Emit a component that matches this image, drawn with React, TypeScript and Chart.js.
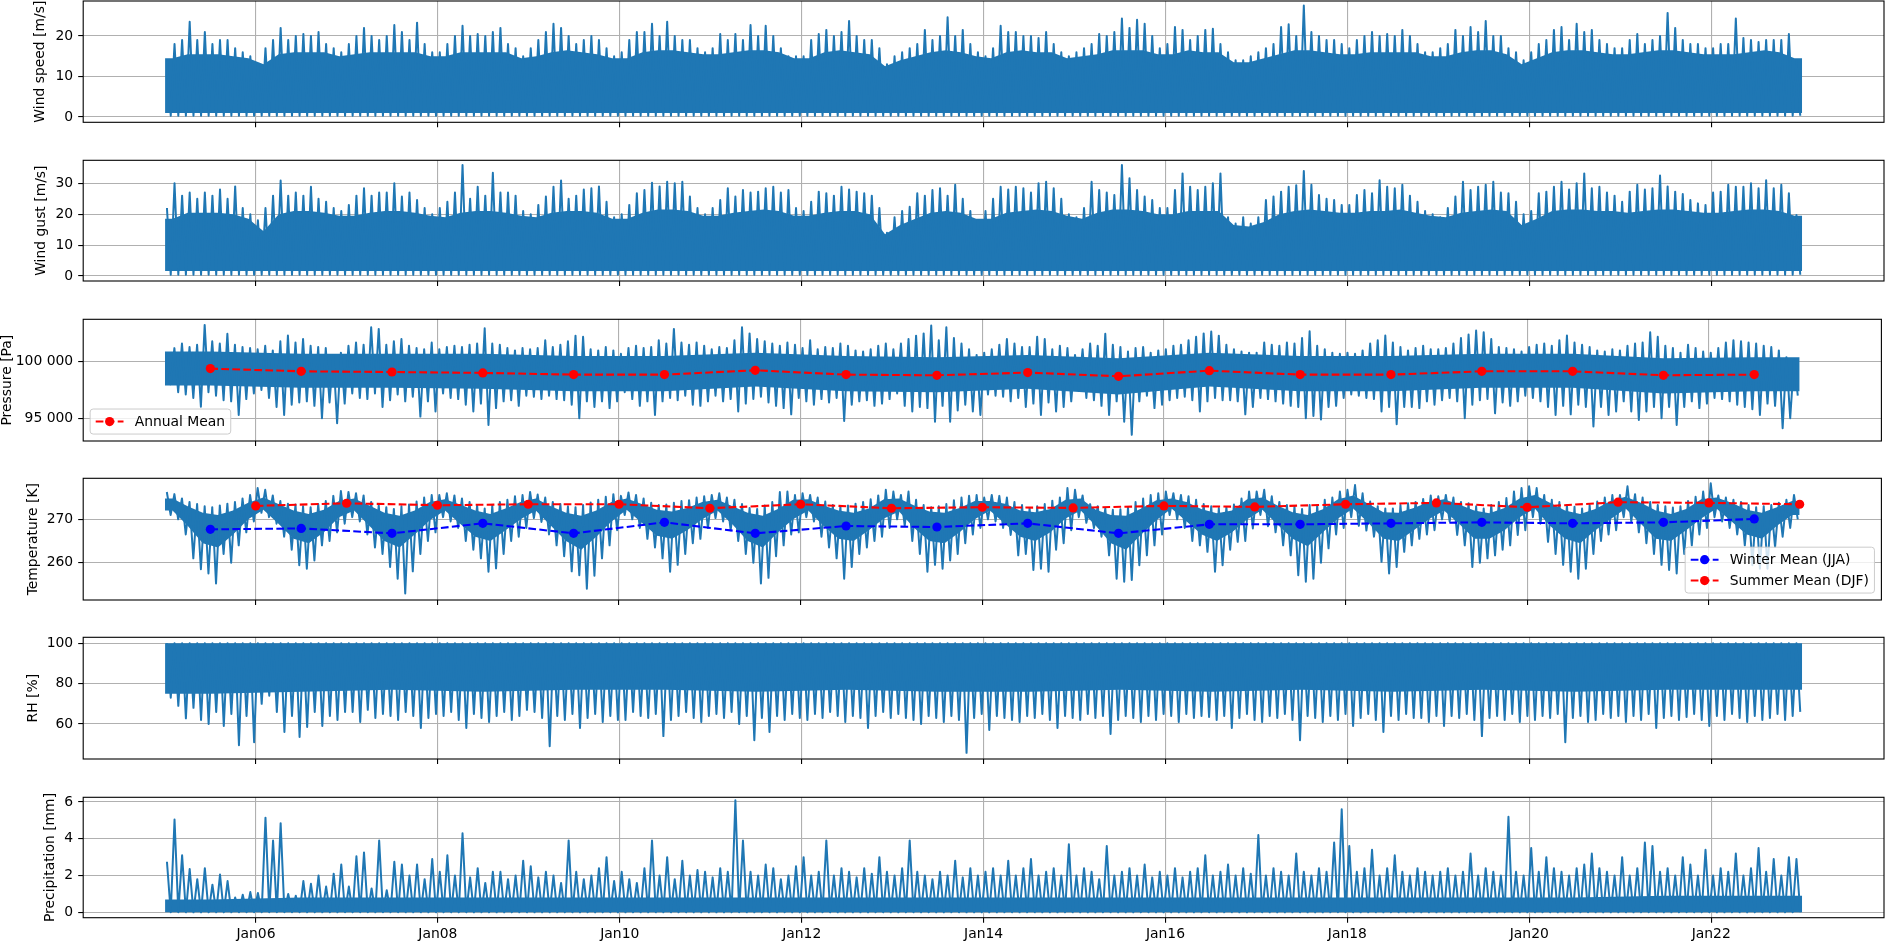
import React, { useEffect, useRef } from "react";
import { Chart, registerables } from "chart.js";

Chart.register(...registerables);

const BLUE = "#1f77b4";
const GRID = "#b0b0b0";
const FONT = '"DejaVu Sans", sans-serif';
const FS = 13.9;

const START_YEAR = 2005;
const END_YEAR = 2023;
const X_MIN = 2004.1;
const X_MAX = 2023.9;
const PLOT_LEFT = 83.2;
const PLOT_RIGHT = 1884;

const xTickYears = [2006, 2008, 2010, 2012, 2014, 2016, 2018, 2020, 2022];
const xTickLabels = ["Jan06", "Jan08", "Jan10", "Jan12", "Jan14", "Jan16", "Jan18", "Jan20", "Jan22"];

// ---- Wind speed [m/s]: monthly spike tops, bimonthly dense-band top ----
const windHi = [
  14, 18, 19, 23.5, 19, 21, 18, 19, 19, 17, 16, 15,
  13, 17, 19, 22, 19, 20, 20.5, 20, 21, 18, 17, 16,
  18, 20, 22, 20, 19, 20, 22.7, 21, 19, 23.3, 18, 16,
  16, 18, 20, 22.5, 20, 20.5, 20, 21, 22, 18, 17, 15,
  17, 19, 21, 23, 22, 20, 18, 19, 20, 19, 17, 15,
  16, 19, 21, 21, 23, 20, 23.5, 20, 19, 19, 17, 16,
  17, 20.5, 19, 20.5, 19, 22.7, 20, 22.5, 20, 17, 15, 15,
  15, 19, 20.5, 21.5, 20, 21, 23.7, 20, 19, 19, 17, 13,
  15, 16, 17, 18, 21.5, 19, 20, 24.6, 20, 21.5, 18, 16,
  15, 17, 22.5, 21, 21, 20, 20, 19.5, 21, 18, 16, 15,
  16, 17, 18, 20.5, 20, 21, 24.3, 22, 24, 23, 20, 17,
  18, 22.2, 21.5, 19, 20, 21.5, 21.8, 18, 16, 14, 14, 15,
  16, 17, 18, 22.2, 22.9, 20, 27.5, 21, 20, 19, 19, 18,
  17, 19, 20, 21, 20, 20.5, 20, 21.5, 20, 18, 16, 16,
  17, 18, 21.5, 20, 22.2, 21, 23.7, 20, 20, 17, 16, 14,
  16, 18, 19, 21.5, 22.2, 19, 23, 21, 21.5, 19, 18, 17,
  17, 19, 20.5, 18, 19, 20, 25.7, 22, 19, 18, 18, 17,
  17, 18, 18, 24.3, 19.5, 19, 18.5, 19, 19, 19, 20.5, 14,
];
const windCore = [
  14.5, 15.5, 15.5, 15.5, 15, 14.5,
  13, 15.5, 16, 16, 16, 15,
  15.5, 16, 16, 16, 16, 15,
  15, 16, 16, 16, 16, 14.5,
  15, 16, 16.5, 16, 15.5, 14.5,
  14.5, 16, 16.5, 16.5, 16, 15.5,
  15.5, 16, 16.5, 16.5, 16, 14.5,
  14.5, 16, 16.5, 16, 15.5, 12.5,
  14, 15, 16, 16.5, 16, 15,
  14.5, 16, 16.5, 16, 16, 14.5,
  15, 15.5, 16.5, 16.5, 16.5, 15.5,
  15.5, 16.5, 16, 16, 13.5, 13.5,
  14.5, 15.5, 16.5, 16.5, 16, 15.5,
  15.5, 16, 16, 16, 16, 15,
  15, 16, 16.5, 16.5, 15.5, 13,
  14.5, 16, 16.5, 16.5, 16, 15.5,
  15.5, 16, 16.5, 16.5, 16, 15.5,
  15.5, 15.5, 16, 16.5, 16, 14.5,
];
const windFloor = 0.3;
const windCoreBottom = 1.0;

// ---- Wind gust [m/s] ----
const gustHi = [
  22, 30, 26, 27, 25, 27, 26, 28, 25, 29, 22, 20,
  18, 22, 26, 30.9, 26, 27, 26, 28.9, 25, 24, 22, 21,
  23, 26, 28.4, 26, 27, 27, 30, 25.7, 27, 24.6, 22, 20,
  22, 24, 27, 35.9, 25, 28.9, 26, 33.4, 27, 27, 26, 21,
  20, 23, 25.7, 28.9, 30.9, 25, 26, 28, 28.4, 29, 24, 19,
  20, 23, 26.8, 27.8, 30.2, 29, 30.5, 30, 30.5, 25.7, 22, 20,
  22, 24.6, 28.4, 25.7, 27.8, 27, 27.3, 28.4, 28.9, 27, 27.8, 22,
  21, 24, 27.3, 26.8, 26, 28.9, 28, 27.3, 26.8, 26, 22, 14,
  19, 21, 22.4, 26.8, 26, 27.8, 28.4, 26, 29.5, 25, 21, 18,
  21, 25, 28.9, 28, 28.9, 28.4, 27, 30, 30.5, 28.4, 25, 20,
  19, 22, 30.5, 27.8, 27, 26.2, 35.9, 31.6, 27.8, 25.7, 24.6, 22,
  22, 27.8, 33.2, 28.9, 27.8, 28.9, 30, 33.2, 19, 17, 19, 17,
  19, 24.6, 25.7, 27.3, 28.9, 29.4, 34, 29.5, 26.2, 25, 24.6, 23,
  23, 26.2, 27.8, 26.8, 31, 28.9, 28.4, 29.5, 26, 24, 21, 20,
  19, 22, 25.7, 30.5, 27.8, 28.9, 29.5, 30.5, 27, 26.8, 24, 20,
  21, 26.8, 27.3, 28.9, 30.5, 28, 30, 33.2, 28.4, 28.9, 27, 26,
  24, 27.3, 29.5, 28, 28.4, 32.5, 29, 27.3, 26.5, 24.6, 23.5, 23,
  27, 27.3, 29.5, 28.9, 28.9, 30, 28.4, 31, 28.4, 29.5, 26.8, 19.7,
];
const gustCore = [
  18.5, 20.5, 20.5, 20.5, 20, 18.5,
  14.5, 20, 21, 21, 20.5, 19.5,
  19.5, 20.5, 21, 21, 20.5, 19.5,
  19, 20.5, 21, 21, 20.5, 19.5,
  19, 20.5, 21, 21, 20.5, 18.5,
  18.5, 20.5, 21.5, 21.5, 21, 19.5,
  19.5, 20.5, 21, 21.5, 21, 19.5,
  19.5, 20.5, 21, 21, 20, 13.5,
  16.5, 18.5, 20.5, 21, 20.5, 18.5,
  18.5, 20.5, 21, 21.5, 21, 19.5,
  18.5, 20.5, 21.5, 21.5, 21, 20,
  20, 21, 21, 21, 16.5, 16,
  17.5, 20, 21, 21.5, 21, 20.5,
  20.5, 21, 21, 21.5, 20.5, 19.5,
  19, 20.5, 21, 21.5, 21, 16.5,
  18.5, 21, 21.5, 21.5, 21, 21,
  20.5, 21, 21.5, 21.5, 21, 20.5,
  20.5, 21, 21.5, 21.5, 21, 19.5,
];
const gustFloor = 0.4;
const gustCoreBottom = 1.6;

// ---- Pressure [Pa] ----
const presHi = [
  100500, 101200, 101600, 101300, 101500, 103250, 101800, 101600, 102460, 101500, 101300, 101200,
  101100, 101400, 101000, 101800, 102310, 101700, 102000, 101400, 101300, 101200, 100600, 100800,
  101400, 101700, 101500, 103040, 102900, 101500, 101800, 102000, 101400, 101200, 101100, 101700,
  101100, 101300, 101400, 101300, 101500, 101600, 102950, 101600, 101500, 101200, 101000, 101200,
  101100, 101200, 101900, 101300, 101500, 101800, 102300, 102200, 101100, 101000, 101300, 101000,
  100700, 101200, 101400, 101200, 101300, 101900, 101600, 102900, 101700, 101500, 101700, 101400,
  101100, 101300, 101200, 101900, 103040, 102500, 102000, 101800, 101600, 101400, 101700, 101500,
  101200, 101900, 101100, 101300, 101200, 101600, 101400, 101000, 100900, 101100, 101400, 101600,
  101100, 101600, 102000, 102300, 102500, 103190, 101900, 103040, 102100, 101600, 101100, 100600,
  100800, 101100, 101500, 102000, 101600, 101300, 101300, 102200, 102000, 101100, 101400, 101200,
  100600, 101100, 101600, 101400, 102460, 101500, 101300, 100900, 101200, 101300, 100800, 101000,
  101100, 101400, 101500, 101900, 102200, 102500, 102660, 102300, 101500, 101100, 100900, 100800,
  100800, 101700, 101500, 101400, 101700, 101600, 102100, 102690, 101400, 101100, 100800, 100700,
  100800, 100700, 101000, 101600, 101900, 102310, 101700, 101300, 101000, 101200, 101400, 101100,
  101100, 101200, 101600, 102100, 102400, 102750, 102600, 102000, 101300, 101200, 101100, 100900,
  101300, 101500, 101600, 101400, 101900, 102310, 101700, 101500, 101300, 101000, 100900, 101100,
  101000, 101400, 101600, 101700, 102600, 102200, 101400, 101200, 100800, 101500, 101200, 100900,
  100800, 101200, 101700, 101900, 101800, 101700, 101600, 101400, 101300, 101000, 100400, 100100,
];
const presLo = [
  98000, 97300, 97100, 96800, 96020, 97300, 97000, 96600, 96500, 95290, 96700, 97200,
  97500, 96800, 96000, 95290, 96200, 96400, 96500, 96100, 95000, 96400, 94560, 96300,
  97200, 96800, 96700, 97200, 96000, 96600, 97100, 96500, 96900, 95150, 96500, 95600,
  97200, 96800, 96700, 96200, 95600, 96300, 94410, 95900, 96500, 96600, 96100, 97000,
  96900, 96700, 97000, 96700, 96600, 96200, 95000, 96500, 96000, 96500, 95900, 96500,
  97300, 96700, 96100, 96500, 95290, 96500, 96800, 96600, 97000, 96200, 96100, 96500,
  97000, 96500, 96700, 95600, 96300, 96700, 96900, 96400, 96100, 95900, 95350, 96800,
  96500, 96200, 96700, 96400, 96800, 94760, 96200, 96500, 96600, 96100, 96300, 96700,
  97200, 96100, 95600, 96000, 95900, 94700, 96100, 94700, 95700, 96200, 95600, 95300,
  97100, 97000, 96900, 96500, 96800, 96000, 96300, 95290, 96400, 95600, 96000, 96500,
  97500, 96800, 96600, 96100, 95290, 96500, 94700, 93540, 96500, 97000, 95900, 96200,
  96600, 96800, 96900, 96600, 95600, 96500, 96800, 96600, 96600, 96500, 95350, 96000,
  96800, 96700, 96500, 96300, 96100, 96000, 95000, 95200, 94900, 96000, 96100, 96800,
  97100, 97000, 96800, 96700, 95600, 96000, 94470, 96000, 96000, 95900, 96500, 96200,
  96600, 96800, 96500, 95000, 96200, 96600, 96700, 95440, 96400, 96100, 96500, 97000,
  96800, 96500, 96000, 95300, 96100, 95350, 96200, 96000, 94270, 96000, 95300, 95600,
  96500, 95600, 94850, 95600, 96000, 95000, 96000, 94410, 96000, 96500, 95900, 96300,
  96800, 96700, 96500, 96200, 96000, 95800, 95300, 96300, 96100, 94120, 95000, 97000,
];
const presCoreHi = [100900, 100700, 100700, 100700, 100500, 100500, 100800, 100500, 100400, 100600, 100300, 100800, 100500, 100500, 100700, 100700, 100300, 100400];
const presCoreLo = [97900, 97700, 97700, 97600, 97400, 97400, 97800, 97400, 97300, 97600, 97100, 97800, 97400, 97400, 97700, 97700, 97200, 97400];
const annualMeanYears = [2005.5, 2006.5, 2007.5, 2008.5, 2009.5, 2010.5, 2011.5, 2012.5, 2013.5, 2014.5, 2015.5, 2016.5, 2017.5, 2018.5, 2019.5, 2020.5, 2021.5, 2022.5];
const presAnnualMean = [99390, 99150, 99090, 99010, 98860, 98860, 99240, 98860, 98800, 99040, 98710, 99210, 98860, 98860, 99150, 99150, 98800, 98860];

// ---- Temperature [K] ----
const tempHi = [
  276.3, 275.8, 274.8, 274.0, 273.5, 273.0, 272.8, 273.2, 273.6, 274.0, 274.8, 275.6,
  277.2, 276.8, 275.5, 274.2, 273.6, 273.4, 273.0, 272.8, 273.5, 274.2, 275.4, 276.5,
  276.3, 276.0, 275.5, 274.0, 273.2, 272.8, 272.4, 273.0, 273.4, 274.1, 275.0, 275.6,
  275.6, 276.0, 275.5, 274.8, 274.0, 273.3, 272.5, 273.2, 274.0, 274.5, 275.3, 275.6,
  276.3, 275.7, 275.0, 274.0, 273.5, 273.0, 272.8, 273.3, 273.9, 274.5, 275.2, 275.8,
  275.4, 276.2, 275.6, 274.8, 273.8, 273.3, 273.4, 273.8, 274.2, 274.4, 275.0, 275.3,
  275.6, 276.0, 275.0, 274.5, 273.5, 272.6, 272.4, 273.2, 274.0, 276.3, 276.4, 275.6,
  276.0, 275.6, 275.0, 274.1, 273.3, 273.0, 273.2, 273.6, 274.0, 274.6, 275.5, 276.8,
  276.4, 275.6, 276.4, 274.5, 273.3, 272.8, 273.0, 273.5, 274.4, 275.0, 275.4, 275.6,
  275.0, 275.6, 275.4, 275.0, 274.0, 273.3, 272.6, 273.0, 273.5, 274.3, 275.0, 277.2,
  276.8, 275.5, 273.5, 273.0, 272.5, 272.2, 272.3, 272.8, 274.0, 274.8, 275.6, 276.0,
  276.4, 276.0, 275.6, 275.3, 274.5, 273.5, 273.0, 272.6, 272.8, 273.4, 274.8, 276.4,
  276.4, 276.8, 275.3, 274.0, 273.3, 273.0, 272.4, 273.3, 273.3, 274.5, 275.0, 276.4,
  276.8, 277.9, 276.0, 274.1, 273.0, 272.5, 272.5, 273.3, 273.7, 274.0, 274.7, 275.5,
  275.3, 275.6, 275.0, 274.0, 273.7, 273.0, 272.5, 273.3, 274.0, 274.9, 276.4, 277.2,
  277.6, 277.2, 275.6, 274.5, 274.0, 273.3, 272.9, 272.5, 273.3, 274.1, 275.0, 275.6,
  275.6, 277.6, 275.8, 275.0, 274.0, 273.3, 273.0, 272.7, 273.0, 274.2, 275.2, 276.4,
  278.3, 275.5, 275.0, 274.5, 274.0, 273.3, 272.8, 273.0, 273.3, 273.8, 274.5, 275.6,
];
const tempLo = [
  271.0, 270.0, 266.5, 261.0, 258.5, 257.5, 255.2, 262.0, 260.0, 264.0, 267.0, 269.5,
  271.5, 270.5, 269.0, 266.0, 263.0, 259.4, 258.6, 260.5, 264.0, 265.0, 267.0, 269.0,
  270.5, 269.5, 266.5, 263.5, 262.0, 259.0, 256.3, 252.9, 258.0, 262.0, 265.0, 267.0,
  270.5, 269.5, 268.0, 265.0, 263.0, 261.0, 257.9, 258.7, 262.0, 265.0, 266.0, 268.0,
  270.3, 269.4, 266.5, 264.0, 261.5, 258.0, 257.1, 254.0, 257.0, 261.0, 264.0, 267.5,
  271.0, 270.0, 268.0, 265.5, 263.5, 261.0, 257.9, 259.5, 262.0, 264.5, 265.5, 268.0,
  270.3, 269.5, 267.5, 265.0, 262.0, 260.0, 255.2, 256.5, 261.5, 264.0, 266.5, 267.0,
  270.5, 269.5, 266.0, 263.5, 261.0, 256.3, 259.0, 262.0, 263.5, 265.0, 266.0, 268.0,
  270.0, 268.5, 265.0, 262.0, 257.9, 259.5, 258.6, 260.5, 262.0, 264.5, 266.5, 268.0,
  270.0, 269.5, 268.0, 266.4, 261.7, 262.0, 258.3, 258.6, 257.9, 263.0, 264.5, 267.5,
  270.5, 269.2, 268.0, 266.0, 261.7, 256.3, 255.6, 256.0, 259.4, 261.7, 264.0, 266.5,
  271.0, 270.0, 268.0, 265.0, 264.0, 262.5, 257.9, 259.4, 263.0, 264.8, 265.0, 267.9,
  271.0, 268.4, 267.0, 264.0, 261.7, 257.1, 255.6, 256.3, 260.0, 263.3, 266.5, 268.0,
  270.5, 268.5, 267.4, 266.0, 260.2, 257.5, 259.0, 262.5, 264.0, 265.5, 266.5, 267.5,
  270.0, 269.5, 266.4, 264.0, 259.0, 260.0, 261.0, 261.7, 263.0, 264.0, 266.4, 267.5,
  270.5, 269.0, 264.8, 262.0, 259.5, 257.9, 256.3, 258.6, 262.0, 265.0, 266.5, 267.5,
  270.5, 269.5, 267.0, 264.5, 262.0, 259.5, 258.3, 257.5, 262.0, 264.0, 266.5, 268.0,
  270.5, 269.5, 268.0, 266.5, 264.0, 259.4, 258.6, 258.6, 263.6, 266.0, 268.0, 270.0,
];
const tempCoreHi = [
  274.8, 273.0, 271.5, 271.0, 272.0, 273.8,
  275.0, 273.5, 272.0, 271.2, 272.2, 274.2,
  274.8, 273.2, 271.5, 270.8, 272.0, 274.0,
  274.6, 273.4, 272.0, 271.2, 272.5, 274.0,
  274.8, 273.0, 271.5, 270.8, 272.0, 274.0,
  274.8, 273.5, 272.2, 271.8, 272.6, 274.0,
  274.5, 273.0, 271.5, 270.8, 272.4, 274.5,
  274.6, 273.2, 272.0, 271.5, 272.5, 274.6,
  274.8, 273.2, 271.8, 271.5, 272.6, 274.2,
  274.2, 273.6, 272.0, 271.6, 272.4, 274.5,
  274.8, 272.2, 271.0, 270.8, 272.5, 274.4,
  274.8, 274.0, 272.3, 271.4, 272.0, 274.6,
  275.0, 273.2, 271.6, 271.0, 272.3, 274.6,
  275.5, 273.6, 271.6, 271.5, 272.6, 274.0,
  274.6, 273.4, 272.0, 271.4, 272.6, 274.8,
  275.6, 273.8, 272.0, 271.2, 272.4, 274.2,
  275.2, 273.8, 272.0, 271.2, 272.4, 274.6,
  275.0, 273.8, 272.2, 271.5, 272.8, 274.2,
];
const tempCoreLo = [
  272.0, 268.5, 264.5, 263.5, 266.5, 270.0,
  272.2, 269.0, 265.5, 264.5, 267.0, 270.5,
  272.0, 268.5, 265.0, 263.5, 266.5, 269.8,
  272.0, 269.0, 266.0, 265.0, 267.5, 270.0,
  272.0, 268.5, 265.0, 263.0, 266.0, 269.5,
  272.2, 269.2, 266.2, 265.5, 267.5, 270.0,
  272.0, 268.8, 265.0, 263.5, 267.0, 270.0,
  272.0, 268.5, 265.5, 265.0, 267.5, 270.2,
  271.8, 268.0, 265.0, 264.5, 267.0, 270.0,
  272.0, 269.0, 266.0, 265.0, 267.0, 270.2,
  272.0, 268.5, 264.5, 263.0, 266.5, 269.8,
  272.5, 269.5, 266.5, 265.0, 267.0, 270.0,
  272.2, 268.8, 265.5, 263.8, 267.0, 270.2,
  272.5, 269.2, 265.5, 265.0, 267.5, 270.0,
  272.0, 269.0, 265.5, 265.5, 267.5, 270.5,
  272.5, 268.5, 265.5, 264.5, 267.5, 270.0,
  272.5, 269.0, 265.5, 265.0, 267.5, 270.2,
  272.5, 269.5, 266.5, 265.5, 268.5, 271.0,
];
const winterMeanYears = [2005.5, 2006.5, 2007.5, 2008.5, 2009.5, 2010.5, 2011.5, 2012.5, 2013.5, 2014.5, 2015.5, 2016.5, 2017.5, 2018.5, 2019.5, 2020.5, 2021.5, 2022.5];
const winterMean = [267.68, 267.9, 266.76, 269.07, 266.76, 269.3, 266.76, 268.46, 268.22, 269.07, 266.76, 268.84, 268.84, 269.07, 269.3, 269.07, 269.3, 270.08];
const summerMeanYears = [2006, 2007, 2008, 2009, 2010, 2011, 2012, 2013, 2014, 2015, 2016, 2017, 2018, 2019, 2020, 2021, 2022, 2023];
const summerMean = [273.09, 273.7, 273.24, 273.47, 273.47, 272.55, 273.47, 272.55, 272.78, 272.63, 273.09, 272.86, 273.47, 273.78, 272.78, 273.94, 273.78, 273.47];

// ---- Relative humidity [%] ----
const rhTop = 100;
const rhLo = [
  73, 69, 62.8, 68, 62, 60, 66, 59, 65, 49.5, 64, 51,
  70, 74, 66, 56, 64, 53.6, 58.5, 66, 59, 64, 62, 66,
  66, 61, 67, 63, 65, 64, 62, 66, 64, 58, 63, 65,
  64, 66, 62, 58, 65, 63, 61, 64, 66, 62, 64, 67,
  66, 63, 49, 64, 62, 65, 58, 63, 65, 61, 64, 62,
  62, 66, 64, 63, 65, 54, 62, 64, 66, 63, 61, 64,
  65, 63, 66, 60, 64, 52, 63, 56, 64, 62, 65, 63,
  62, 65, 63, 66, 64, 61, 64, 63, 58, 64, 66, 63,
  65, 63, 62, 60, 64, 63, 61, 64, 62, 45.7, 63, 65,
  57, 64, 63, 62, 61, 64, 63, 65, 62, 58, 64, 63,
  62, 65, 63, 64, 55, 62, 64, 63, 61, 64, 62, 65,
  64, 61, 65, 63, 64, 63.5, 62, 64, 58, 63, 65, 62,
  61, 64, 63, 65, 62, 52, 64, 63, 61, 64, 62, 65,
  59, 63, 65, 62, 56, 64, 62, 65, 63, 63, 61, 64,
  59, 64, 63, 65, 62, 54, 63, 64, 62, 65, 61, 64,
  62, 64, 63, 65, 51, 63, 64, 61, 62, 65, 63, 64,
  61, 64, 62, 65, 58, 63, 64, 62, 63.5, 65, 62, 59,
  64, 62, 65, 63, 61, 64, 62, 63, 65, 62, 64, 66,
];
const rhCoreLo = [75, 76, 77, 76, 77, 77, 76, 77, 76, 76, 77, 76, 77, 76, 77, 76, 77, 77];

// ---- Precipitation [mm] ----
const precipHi = [
  2.75, 5.05, 3.1, 2.35, 1.8, 2.4, 1.5, 2.05, 1.7, 0.8, 0.95, 1.1,
  1.05, 5.15, 3.9, 4.85, 1.0, 0.9, 1.7, 1.55, 2.0, 1.4, 2.1, 2.6,
  1.4, 3.05, 3.25, 1.3, 3.9, 1.2, 2.75, 2.6, 2.0, 2.6, 1.8, 2.9,
  2.2, 3.1, 2.0, 4.3, 1.9, 2.4, 1.6, 2.2, 2.2, 1.8, 2.0, 2.8,
  2.5, 1.9, 2.2, 2.0, 1.6, 3.9, 2.2, 1.8, 2.0, 2.4, 3.0, 1.7,
  2.2, 1.8, 1.6, 2.4, 3.9, 2.0, 3.0, 1.8, 2.8, 2.0, 2.3, 2.2,
  1.9, 2.4, 2.2, 6.1, 3.9, 2.2, 2.0, 2.6, 2.4, 1.8, 2.0, 2.5,
  3.0, 2.0, 2.2, 3.9, 2.0, 2.4, 2.2, 1.9, 2.4, 2.1, 3.0, 2.2,
  2.0, 2.4, 3.9, 2.2, 2.0, 1.8, 2.2, 2.0, 2.8, 1.9, 2.4, 2.0,
  2.2, 2.4, 2.0, 2.8, 2.0, 2.4, 2.9, 2.0, 2.2, 2.4, 2.0, 3.7,
  2.0, 2.4, 2.2, 1.8, 3.6, 2.0, 2.2, 2.4, 2.0, 2.6, 1.9, 2.2,
  2.0, 2.4, 1.9, 2.2, 2.4, 3.1, 2.0, 2.2, 2.6, 2.0, 2.4, 2.1,
  4.2, 2.0, 2.4, 2.2, 2.0, 3.2, 2.2, 2.0, 2.4, 2.2, 3.8, 5.6,
  3.6, 2.2, 2.4, 3.4, 2.0, 2.4, 3.1, 2.2, 2.0, 2.4, 2.2, 2.0,
  2.2, 2.4, 2.0, 2.2, 3.2, 2.0, 2.4, 2.2, 2.0, 5.2, 2.2, 2.0,
  3.5, 2.2, 3.0, 2.4, 2.2, 2.0, 2.4, 2.6, 3.2, 2.4, 2.2, 2.0,
  3.0, 2.0, 2.4, 3.8, 3.6, 2.2, 2.4, 2.0, 3.0, 2.6, 2.0, 3.4,
  2.0, 2.4, 2.2, 3.2, 2.0, 2.4, 3.5, 2.2, 2.9, 2.0, 3.0, 2.9,
];
const precipCore = [0.7, 0.8, 0.8, 0.8, 0.8, 0.8, 0.8, 0.8, 0.8, 0.8, 0.8, 0.8, 0.8, 0.8, 0.8, 0.8, 0.9, 0.9];
const precipFloor = 0;

// ---------------- helpers that turn the arrays into Chart.js points ----------------
type Pt = { x: number; y: number };

function monthlyZigzag(hi: number[] | number, lo: number[] | number): Pt[] {
  const n = Array.isArray(hi) ? hi.length : (lo as number[]).length;
  const pts: Pt[] = [];
  for (let m = 0; m < n; m++) {
    const h = Array.isArray(hi) ? hi[m] : hi;
    const l = Array.isArray(lo) ? lo[m] : lo;
    pts.push({ x: START_YEAR + (m + 0.25) / 12, y: h });
    pts.push({ x: START_YEAR + (m + 0.75) / 12, y: l });
  }
  return pts;
}

function band(vals: number[]): Pt[] {
  const n = vals.length;
  const step = (END_YEAR - START_YEAR) / n;
  return [
    { x: START_YEAR, y: vals[0] },
    ...vals.map((y, k) => ({ x: START_YEAR + (k + 0.5) * step, y })),
    { x: END_YEAR, y: vals[n - 1] },
  ];
}

function pairs(xs: number[], ys: number[]): Pt[] {
  return xs.map((x, i) => ({ x, y: ys[i] }));
}

function coreFill(data: Pt[], fill: any) {
  return { data, fill, backgroundColor: BLUE, borderColor: BLUE, borderWidth: 0, pointRadius: 0, order: 3 };
}
function coreEdge(data: Pt[]) {
  return { data, fill: false, borderColor: BLUE, borderWidth: 0, pointRadius: 0, order: 3 };
}
function zigDataset(data: Pt[]) {
  return { data, fill: false, borderColor: BLUE, borderWidth: 2, pointRadius: 0, order: 1 };
}
function meanDataset(data: Pt[], color: string) {
  return {
    data,
    fill: false,
    borderColor: color,
    backgroundColor: color,
    borderWidth: 2.08,
    borderDash: [7.7, 3.3],
    pointRadius: 4.6,
    pointBackgroundColor: color,
    pointBorderColor: color,
    pointBorderWidth: 0,
    order: 0,
  };
}

const spaceThousands = (v: number) => String(Math.round(v)).replace(/\B(?=(\d{3})+(?!\d))/g, " ");

type LegendSpec = { loc: "lower left" | "lower right"; items: { label: string; color: string }[] };
type Panel = {
  top: number;
  bottom: number;
  yMin: number;
  yMax: number;
  yTicks: number[];
  yFmt?: (v: number) => string;
  title: string;
  titleX: number;
  xLabels: boolean;
  datasets: any[];
  legend?: LegendSpec;
};

const PANELS: Panel[] = [
  {
    top: 1, bottom: 122.3, yMin: -1.31, yMax: 28.64, yTicks: [0, 10, 20],
    title: "Wind speed [m/s]", titleX: 40.8, xLabels: false,
    datasets: [coreFill(band(windCore), { value: windCoreBottom }), zigDataset(monthlyZigzag(windHi, windFloor))],
  },
  {
    top: 160.3, bottom: 281, yMin: -1.62, yMax: 37.44, yTicks: [0, 10, 20, 30],
    title: "Wind gust [m/s]", titleX: 41.8, xLabels: false,
    datasets: [coreFill(band(gustCore), { value: gustCoreBottom }), zigDataset(monthlyZigzag(gustHi, gustFloor))],
  },
  {
    top: 319.3, bottom: 441, yMin: 92995, yMax: 103746, yTicks: [95000, 100000], yFmt: spaceThousands,
    title: "Pressure [Pa]", titleX: 7.2, xLabels: false,
    datasets: [
      meanDataset(pairs(annualMeanYears, presAnnualMean), "#ff0000"),
      coreFill(band(presCoreHi), "+1"),
      coreEdge(band(presCoreLo)),
      zigDataset(monthlyZigzag(presHi, presLo)),
    ],
    legend: { loc: "lower left", items: [{ label: "Annual Mean", color: "#ff0000" }] },
  },
  {
    top: 478.3, bottom: 600, yMin: 251.4, yMax: 279.45, yTicks: [260, 270],
    title: "Temperature [K]", titleX: 33.2, xLabels: false,
    datasets: [
      meanDataset(pairs(winterMeanYears, winterMean), "#0000ff"),
      meanDataset(pairs(summerMeanYears, summerMean), "#ff0000"),
      coreFill(band(tempCoreHi), "+1"),
      coreEdge(band(tempCoreLo)),
      zigDataset(monthlyZigzag(tempHi, tempLo)),
    ],
    legend: {
      loc: "lower right",
      items: [
        { label: "Winter Mean (JJA)", color: "#0000ff" },
        { label: "Summer Mean (DJF)", color: "#ff0000" },
      ],
    },
  },
  {
    top: 637.3, bottom: 759, yMin: 42.65, yMax: 102.97, yTicks: [60, 80, 100],
    title: "RH [%]", titleX: 33.2, xLabels: false,
    datasets: [coreFill(band(rhCoreLo), { value: rhTop }), zigDataset(monthlyZigzag(rhTop, rhLo))],
  },
  {
    top: 797.3, bottom: 917.7, yMin: -0.294, yMax: 6.256, yTicks: [0, 2, 4, 6],
    title: "Precipitation [mm]", titleX: 50.8, xLabels: true,
    datasets: [coreFill(band(precipCore), { value: precipFloor }), zigDataset(monthlyZigzag(precipHi, precipFloor))],
  },
];

function drawLegend(ctx: CanvasRenderingContext2D, a: any, spec: LegendSpec) {
  const fs = FS;
  const bp = 0.4 * fs, hl = 2 * fs, htp = 0.8 * fs, ls = 0.5 * fs, pad = 0.5 * fs;
  ctx.save();
  ctx.font = `${fs}px ${FONT}`;
  const tw = Math.max(...spec.items.map((it) => ctx.measureText(it.label).width));
  const w = 2 * bp + hl + htp + tw;
  const n = spec.items.length;
  const h = 2 * bp + n * fs + (n - 1) * ls;
  const x = spec.loc === "lower left" ? a.left + pad : a.right - pad - w;
  const y = a.bottom - pad - h;
  const r = 3;
  ctx.beginPath();
  ctx.moveTo(x + r, y);
  ctx.lineTo(x + w - r, y);
  ctx.arcTo(x + w, y, x + w, y + r, r);
  ctx.lineTo(x + w, y + h - r);
  ctx.arcTo(x + w, y + h, x + w - r, y + h, r);
  ctx.lineTo(x + r, y + h);
  ctx.arcTo(x, y + h, x, y + h - r, r);
  ctx.lineTo(x, y + r);
  ctx.arcTo(x, y, x + r, y, r);
  ctx.closePath();
  ctx.fillStyle = "rgba(255,255,255,0.8)";
  ctx.fill();
  ctx.strokeStyle = "#cccccc";
  ctx.lineWidth = 1;
  ctx.stroke();
  spec.items.forEach((it, j) => {
    const cy = y + bp + j * (fs + ls) + fs / 2;
    const x0 = x + bp;
    ctx.save();
    ctx.strokeStyle = it.color;
    ctx.lineWidth = 2.08;
    ctx.setLineDash([7.7, 3.3]);
    ctx.beginPath();
    ctx.moveTo(x0, cy);
    ctx.lineTo(x0 + hl, cy);
    ctx.stroke();
    ctx.restore();
    ctx.fillStyle = it.color;
    ctx.beginPath();
    ctx.arc(x0 + hl / 2, cy, 4.6, 0, Math.PI * 2);
    ctx.fill();
    ctx.fillStyle = "#000";
    ctx.textAlign = "left";
    ctx.textBaseline = "middle";
    ctx.fillText(it.label, x0 + hl + htp, cy + 0.5);
  });
  ctx.restore();
}

const decorPlugin = {
  id: "decor",
  afterDraw(chart: any, _args: any, opts: any) {
    const { ctx, chartArea: a } = chart;
    ctx.save();
    ctx.strokeStyle = "#000";
    ctx.lineWidth = 1.1;
    ctx.strokeRect(a.left, a.top, a.right - a.left, a.bottom - a.top);
    ctx.fillStyle = "#000";
    ctx.font = `${FS}px ${FONT}`;
    ctx.translate(opts.titleX, (a.top + a.bottom) / 2);
    ctx.rotate(-Math.PI / 2);
    ctx.textAlign = "center";
    ctx.textBaseline = "middle";
    ctx.fillText(opts.title, 0, 0);
    ctx.restore();
    if (opts.legend) drawLegend(ctx, a, opts.legend);
  },
};

function geometry(p: Panel, i: number) {
  const canvasTop = i === 0 ? 0 : Math.floor(p.top) - 6;
  const canvasH = i === PANELS.length - 1 ? 942 - canvasTop : Math.ceil(p.bottom + 10) - canvasTop;
  return { canvasTop, canvasH };
}

function makeConfig(p: Panel, i: number): any {
  const { canvasTop, canvasH } = geometry(p, i);
  const padTop = p.top - canvasTop;
  const xh = canvasH - (p.bottom - canvasTop);
  const tickFont = { family: FONT, size: FS };
  return {
    type: "line",
    data: { datasets: p.datasets },
    plugins: [decorPlugin],
    options: {
      animation: false,
      responsive: false,
      maintainAspectRatio: false,
      devicePixelRatio: 1,
      events: [],
      parsing: false,
      layout: { padding: { top: padTop, left: 0, right: 1886 - PLOT_RIGHT, bottom: 0 } },
      elements: {
        line: { tension: 0, borderJoinStyle: "round", borderCapStyle: "butt" },
        point: { radius: 0, hitRadius: 0, hoverRadius: 0 },
      },
      plugins: {
        legend: { display: false },
        tooltip: { enabled: false },
        decor: { title: p.title, titleX: p.titleX, legend: p.legend },
      },
      scales: {
        x: {
          type: "linear",
          min: X_MIN,
          max: X_MAX,
          afterBuildTicks: (s: any) => {
            s.ticks = xTickYears.map((v) => ({ value: v }));
          },
          ticks: {
            autoSkip: false,
            maxRotation: 0,
            minRotation: 0,
            padding: 3,
            color: "#000",
            font: tickFont,
            callback: (v: number) => (p.xLabels ? xTickLabels[xTickYears.indexOf(v)] ?? "" : ""),
          },
          grid: { color: GRID, lineWidth: 1.1, drawTicks: true, tickLength: 5, tickColor: "#000", tickWidth: 1.1 },
          border: { display: false },
          afterFit: (s: any) => {
            s.height = xh;
            s.paddingLeft = 0;
            s.paddingRight = 0;
          },
        },
        y: {
          type: "linear",
          min: p.yMin,
          max: p.yMax,
          afterBuildTicks: (s: any) => {
            s.ticks = p.yTicks.map((v) => ({ value: v }));
          },
          ticks: {
            padding: 5,
            color: "#000",
            font: tickFont,
            callback: (v: number) => (p.yFmt ? p.yFmt(v) : String(v)),
          },
          grid: { color: GRID, lineWidth: 1.1, drawTicks: true, tickLength: 5, tickColor: "#000", tickWidth: 1.1 },
          border: { display: false },
          afterFit: (s: any) => {
            s.width = PLOT_LEFT;
            s.paddingTop = 0;
            s.paddingBottom = 0;
          },
        },
      },
    },
  };
}

export default function App() {
  const refs = useRef<(HTMLCanvasElement | null)[]>([]);
  useEffect(() => {
    document.body.style.margin = "0";
    const charts = PANELS.map((p, i) => new Chart(refs.current[i] as HTMLCanvasElement, makeConfig(p, i)));
    return () => charts.forEach((c) => c.destroy());
  }, []);
  return (
    <div style={{ position: "relative", width: 1886, height: 942, background: "#ffffff", overflow: "hidden" }}>
      {PANELS.map((p, i) => {
        const { canvasTop, canvasH } = geometry(p, i);
        return (
          <canvas
            key={i}
            ref={(el) => {
              refs.current[i] = el;
            }}
            width={1886}
            height={canvasH}
            style={{ position: "absolute", left: 0, top: canvasTop, width: 1886, height: canvasH }}
          />
        );
      })}
    </div>
  );
}
